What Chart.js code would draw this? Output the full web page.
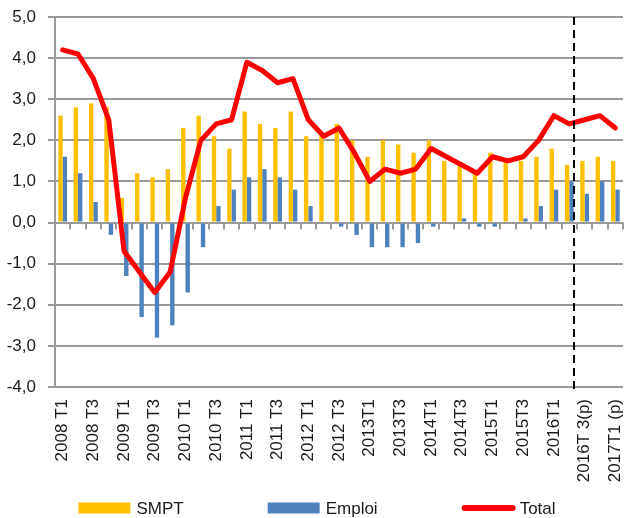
<!DOCTYPE html>
<html>
<head>
<meta charset="utf-8">
<script src="https://cdn.jsdelivr.net/npm/chart.js@4"></script>
<style>
html, body { margin: 0; padding: 0; background: #ffffff; }
canvas { display: block; }
</style>
</head>
<body>
<canvas id="c" width="628" height="518"></canvas>
<script>
const categories = [
  '2008 T1','2008 T2','2008 T3','2008 T4',
  '2009 T1','2009 T2','2009 T3','2009 T4',
  '2010 T1','2010 T2','2010 T3','2010 T4',
  '2011 T1','2011 T2','2011 T3','2011 T4',
  '2012 T1','2012 T2','2012 T3','2012 T4',
  '2013T1','2013T2','2013T3','2013T4',
  '2014T1','2014T2','2014T3','2014T4',
  '2015T1','2015T2','2015T3','2015T4',
  '2016T1','2016T2','2016T 3(p)','2016T4 (p)',
  '2017T1 (p)'
];
const tickLabels = [
  '2008 T1','2008 T3','2009 T1','2009 T3','2010 T1','2010 T3',
  '2011 T1','2011 T3','2012 T1','2012 T3','2013T1','2013T3',
  '2014T1','2014T3','2015T1','2015T3','2016T1','2016T 3(p)','2017T1 (p)'
];
const smpt = [
  2.6, 2.8, 2.9, 2.8,
  0.6, 1.2, 1.1, 1.3,
  2.3, 2.6, 2.1, 1.8,
  2.7, 2.4, 2.3, 2.7,
  2.1, 2.1, 2.4, 2.0,
  1.6, 2.0, 1.9, 1.7,
  2.0, 1.5, 1.4, 1.2,
  1.7, 1.5, 1.5, 1.6,
  1.8, 1.4, 1.5, 1.6,
  1.5
];
const emploi = [
  1.6, 1.2, 0.5, -0.3,
  -1.3, -2.3, -2.8, -2.5,
  -1.7, -0.6, 0.4, 0.8,
  1.1, 1.3, 1.1, 0.8,
  0.4, 0.0, -0.1, -0.3,
  -0.6, -0.6, -0.6, -0.5,
  -0.1, 0.0, 0.1, -0.1,
  -0.1, 0.0, 0.1, 0.4,
  0.8, 1.0, 0.7, 1.0,
  0.8
];
const total = [
  4.2, 4.1, 3.5, 2.5,
  -0.7, -1.2, -1.7, -1.2,
  0.6, 2.0, 2.4, 2.5,
  3.9, 3.7, 3.4, 3.5,
  2.5, 2.1, 2.3, 1.7,
  1.0, 1.3, 1.2, 1.3,
  1.8, 1.6, 1.4, 1.2,
  1.6, 1.5, 1.6, 2.0,
  2.6, 2.4, 2.5, 2.6,
  2.3
];
const seriesNames = ['SMPT', 'Emploi', 'Total'];
const yMin = -4, yMax = 5, yStep = 1;
const forecastAfterIndex = 33; // dashed separator after 2016T2

const FAMILY = '"Liberation Sans", Arial, sans-serif';
const FONT_SIZE = 17;
const GRID = '#9a9a9a';
const TEXT = '#1a1a1a';

Chart.defaults.font.family = FAMILY;
Chart.defaults.font.size = FONT_SIZE;
Chart.defaults.color = TEXT;

const zeroTicksPlugin = {
  id: 'zeroTicks',
  beforeDatasetsDraw(chart) {
    const xs = chart.scales.x, ys = chart.scales.y;
    const ctx = chart.ctx;
    const y0 = ys.getPixelForValue(0);
    const step = xs.getPixelForValue(1) - xs.getPixelForValue(0);
    ctx.save();
    ctx.strokeStyle = GRID;
    ctx.lineWidth = 2;
    ctx.beginPath();
    for (let i = 0; i < categories.length; i++) {
      const bx = Math.round(xs.getPixelForValue(i) + step / 2);
      ctx.moveTo(bx, y0);
      ctx.lineTo(bx, y0 + 7);
    }
    ctx.stroke();
    ctx.restore();
  }
};

const separatorPlugin = {
  id: 'separator',
  afterDatasetsDraw(chart) {
    const xs = chart.scales.x;
    const ctx = chart.ctx;
    const a = chart.chartArea;
    const step = xs.getPixelForValue(forecastAfterIndex + 1) - xs.getPixelForValue(forecastAfterIndex);
    const x = Math.round(xs.getPixelForValue(forecastAfterIndex) + step * 0.3);
    ctx.save();
    ctx.strokeStyle = '#000000';
    ctx.lineWidth = 2;
    ctx.setLineDash([8, 5]);
    ctx.beginPath();
    ctx.moveTo(x, a.top);
    ctx.lineTo(x, a.bottom + 4);
    ctx.stroke();
    ctx.restore();
  }
};

const legendPlugin = {
  id: 'customLegend',
  afterDraw(chart) {
    const ctx = chart.ctx;
    ctx.save();
    ctx.font = FONT_SIZE + 'px ' + FAMILY;
    ctx.textBaseline = 'middle';
    ctx.textAlign = 'left';
    const items = chart.data.datasets.map(d => ({
      label: d.label,
      color: d.type === 'line' ? d.borderColor : d.backgroundColor,
      line: d.type === 'line'
    }));
    const sw = 52, gapT = 6, gapI = 84;
    const widths = items.map(it => sw + gapT + ctx.measureText(it.label).width);
    const totalW = widths.reduce((s, w) => s + w, 0) + gapI * (items.length - 1);
    let x = chart.width / 2 + 3 - totalW / 2;
    const yc = chart.height - 10;
    items.forEach((it, i) => {
      if (it.line) {
        ctx.strokeStyle = it.color;
        ctx.lineWidth = 6;
        ctx.lineCap = 'round';
        ctx.beginPath();
        ctx.moveTo(x + 3, yc);
        ctx.lineTo(x + sw - 1, yc);
        ctx.stroke();
      } else {
        ctx.fillStyle = it.color;
        ctx.fillRect(x, yc - 5.5, sw, 11);
      }
      ctx.fillStyle = TEXT;
      ctx.fillText(it.label, x + sw + gapT, yc + 1);
      x += widths[i] + gapI;
    });
    ctx.restore();
  }
};

new Chart(document.getElementById('c'), {
  type: 'bar',
  data: {
    labels: categories,
    datasets: [
      {
        type: 'bar',
        label: seriesNames[0],
        data: smpt,
        backgroundColor: '#FFC000',
        borderWidth: 0,
        categoryPercentage: 0.57,
        barPercentage: 1.0,
        order: 1
      },
      {
        type: 'bar',
        label: seriesNames[1],
        data: emploi,
        backgroundColor: '#4F81BD',
        borderWidth: 0,
        categoryPercentage: 0.57,
        barPercentage: 1.0,
        order: 1
      },
      {
        type: 'line',
        label: seriesNames[2],
        data: total,
        borderColor: '#FF0000',
        backgroundColor: '#FF0000',
        borderWidth: 5,
        borderJoinStyle: 'round',
        borderCapStyle: 'round',
        pointRadius: 0,
        pointHoverRadius: 0,
        tension: 0,
        fill: false,
        order: 0
      }
    ]
  },
  options: {
    responsive: false,
    devicePixelRatio: 1,
    animation: false,
    layout: { padding: { top: 17, right: 5, bottom: 33, left: 0 } },
    plugins: {
      legend: { display: false },
      tooltip: { enabled: false },
      title: { display: false }
    },
    scales: {
      x: {
        type: 'category',
        offset: true,
        grid: { display: false, drawTicks: false },
        border: { display: false },
        ticks: {
          autoSkip: false,
          maxRotation: 90,
          minRotation: 90,
          padding: 12,
          color: TEXT,
          font: { size: FONT_SIZE },
          callback: function(value, index) {
            return index % 2 === 0 ? tickLabels[index / 2] : '';
          }
        },
        afterFit(scale) {
          scale.height = 98;
          scale.paddingLeft = 0;
          scale.paddingRight = 0;
        }
      },
      y: {
        min: yMin,
        max: yMax,
        ticks: {
          stepSize: yStep,
          padding: 12,
          color: TEXT,
          font: { size: FONT_SIZE },
          callback: v => v.toFixed(1).replace('.', ',')
        },
        grid: { color: GRID, lineWidth: 2, tickLength: 7, drawTicks: true },
        border: { display: true, color: GRID, width: 2 },
        afterFit(scale) {
          scale.width = 55;
          scale.paddingTop = 0;
          scale.paddingBottom = 0;
        }
      }
    }
  },
  plugins: [zeroTicksPlugin, separatorPlugin, legendPlugin]
});
</script>
</body>
</html>
